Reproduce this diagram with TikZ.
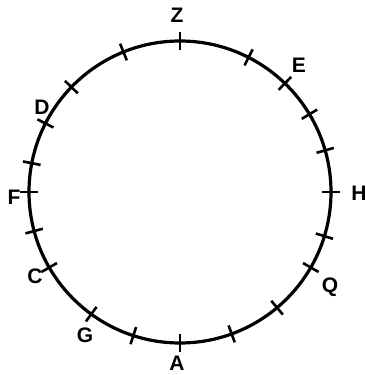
\documentclass[tikz,border=0pt]{standalone}
\usepackage{fontspec}
\setmainfont{Liberation Sans}
\usetikzlibrary{positioning}

\begin{document}
\begin{tikzpicture}[
  x=1pt, y=1pt,
  every node/.style={font=\fontsize{21}{21}\selectfont\bfseries, inner sep=0pt},
  rim/.style   ={draw=black, line width=3.2pt},
  notch/.style ={draw=black, line width=2.6pt}
]
\useasboundingbox (0,0) rectangle (366,375);

% Circle centre and rim
\coordinate (o) at (180,183);
\draw[rim] (o) circle (151pt);

% Notches round the rim (angles in degrees)
\foreach \a in {0,16,31,46,63,90,112,136,153,169,180,195,210,234,252,270,290,310,330,343}
  \draw[notch] ([shift={(\a:142pt)}]o) -- ([shift={(\a:160pt)}]o);

% Letters
\node (z) at (177,360) {Z};
\node (e) at (299,310) {E};
\node (d) at (42,268)  {D};
\node (f) at (14,178)  {F};
\node (h) at (359,182) {H};
\node (q) at (330,88)  {Q};
\node (c) at (35,99)   {C};
\node (g) at (85,40)   {G};
\node (a) at (177,12)  {A};
\end{tikzpicture}
\end{document}
